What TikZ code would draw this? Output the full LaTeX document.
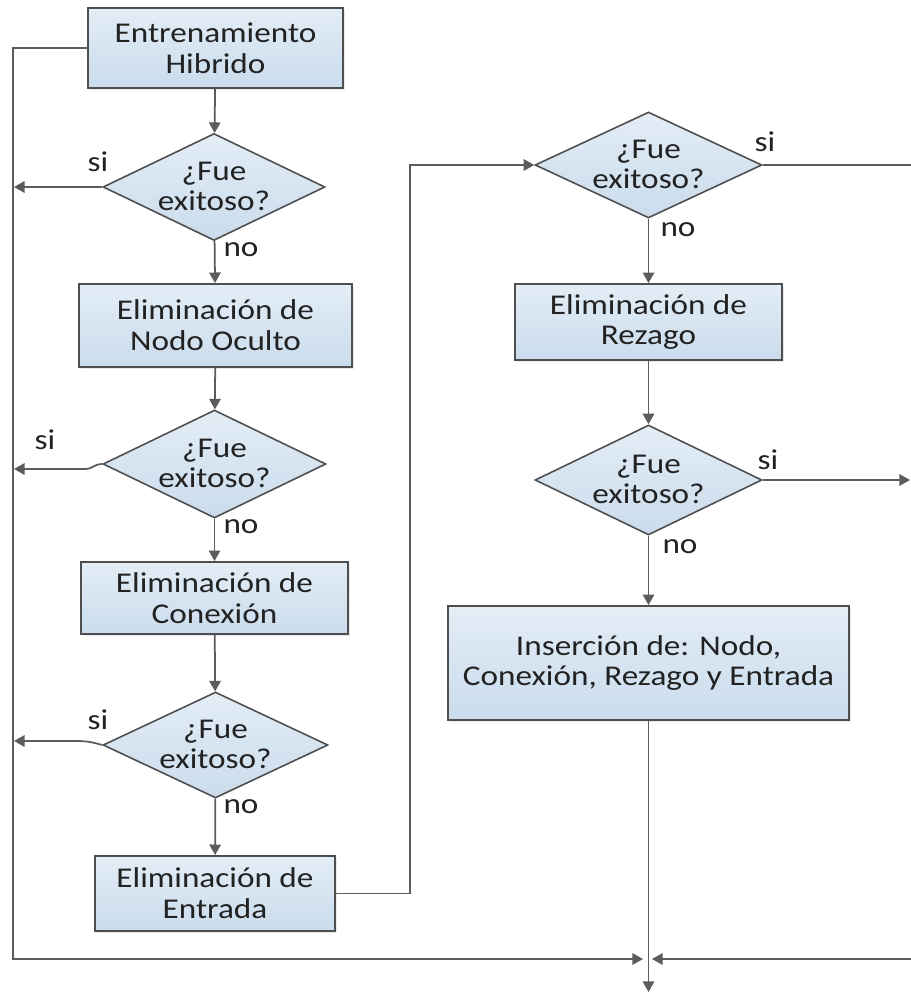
\documentclass[tikz,border=0pt]{standalone}
\usepackage{fontspec}
\setmainfont{Carlito}[FakeStretch=1.16]
\usetikzlibrary{shapes.geometric,arrows.meta,shadows}

\definecolor{boxtop}{HTML}{E3EDF6}
\definecolor{boxbot}{HTML}{CADCEC}
\definecolor{edgegray}{HTML}{4F4F4F}
\definecolor{linegray}{HTML}{5C5C5C}
\definecolor{txt}{HTML}{222222}

% two-line question text, centred on the diamond without widening it
\newcommand\qtext{\smash{\makebox[0pt]{\raisebox{-0.2cm}{\begin{tabular}{@{}c@{}}¿Fue\\exitoso?\end{tabular}}}}}

\tikzset{
  base/.style={font=\fontsize{16.3}{17.5}\selectfont, text=txt},
  procbox/.style={base, rectangle, draw=edgegray, line width=1.1pt,
    top color=boxtop, bottom color=boxbot, align=center, inner sep=2pt,
    drop shadow={shadow xshift=1.2pt, shadow yshift=-1.2pt, opacity=0.18}},
  decision/.style={base, diamond, draw=edgegray, line width=0.9pt,
    top color=boxtop, bottom color=boxbot, inner sep=0pt},
  lbl/.style={base, inner sep=0pt},
  flow/.style={draw=linegray, line width=1pt},
  arr/.style={flow, -{Triangle[length=6pt,width=6.5pt]}},
}

\begin{document}
\begin{tikzpicture}[x=0.02cm, y=-0.02cm]
  \fill[white] (0,0) rectangle (911,993);
  \useasboundingbox (0,0) rectangle (911,993);

  % left column
  \node[procbox, minimum width=5.1cm, minimum height=1.6cm] (b1) at (215.5,48) {Entrenamiento\\Hibrido};
  \node[decision, minimum width=4.44cm, minimum height=2.14cm] (d1) at (214,187) {\qtext};
  \node[procbox, minimum width=5.46cm, minimum height=1.66cm] (b2) at (215.5,325.5) {Eliminación de\\Nodo Oculto};
  \node[decision, minimum width=4.46cm, minimum height=2.16cm] (d2) at (214.5,464) {\qtext};
  \node[procbox, minimum width=5.34cm, minimum height=1.44cm] (b3) at (214.5,598) {Eliminación de\\Conexión};
  \node[decision, minimum width=4.5cm, minimum height=2.12cm] (d3) at (215.5,745) {\qtext};
  \node[procbox, minimum width=4.8cm, minimum height=1.5cm] (b4) at (215,893.5) {Eliminación de\\Entrada};

  % right column
  \node[decision, minimum width=4.54cm, minimum height=2.12cm] (r1) at (648.5,165) {\qtext};
  \node[procbox, minimum width=5.34cm, minimum height=1.52cm] (rb1) at (648.5,322) {Eliminación de\\Rezago};
  \node[decision, minimum width=4.54cm, minimum height=2.2cm] (r2) at (648.5,480) {\qtext};
  \node[procbox, minimum width=8.02cm, minimum height=2.28cm] (rb2) at (648.5,663) {Inserción de: Nodo,\\Conexión, Rezago y Entrada};

  % branch labels
  \node[lbl] (s1) at (98,162) {si};
  \node[lbl] (n1) at (241,250) {no};
  \node[lbl] (s2) at (45,440) {si};
  \node[lbl] (n2) at (241,527) {no};
  \node[lbl] (s3) at (98,720) {si};
  \node[lbl] (n3) at (241,807) {no};
  \node[lbl] (s4) at (765,142) {si};
  \node[lbl] (n4) at (678,230) {no};
  \node[lbl] (s5) at (768,460) {si};
  \node[lbl] (n5) at (680,547) {no};

  % routing points
  \coordinate (lt) at (13,48);
  \coordinate (lb) at (13,959);
  \coordinate (y1) at (14,187);
  \coordinate (y2) at (14,469);
  \coordinate (y3) at (14,741);
  \coordinate (c2) at (86,469);
  \coordinate (c3) at (72,741);
  \coordinate (jr) at (410,893.5);
  \coordinate (jt) at (410,165);
  \coordinate (e1) at (911,165);
  \coordinate (e2) at (910,480);
  \coordinate (e3) at (911,959);
  \coordinate (jl) at (643,959);
  \coordinate (jrr) at (652,959);
  \coordinate (out) at (648.5,992);

  % main chain, left column
  \draw[arr] (b1) -- (d1);
  \draw[arr] (d1) -- (b2);
  \draw[arr] (b2) -- (d2);
  \draw[arr] (d2) -- (b3);
  \draw[arr] (b3) -- (d3);
  \draw[arr] (d3) -- (b4);

  % "si" exits to the left rail
  \draw[arr] (d1.west) -- (y1);
  \draw[arr] (d2.west) .. controls +(-8,0) and +(6,0) .. (c2) -- (y2);
  \draw[arr] (d3.west) .. controls +(-14,-4) and +(12,0) .. (c3) -- (y3);

  % left rail down to the bottom junction
  \draw[arr] (b1.west) -- (lt) -- (lb) -- (jl);

  % over to the right column
  \draw[arr] (b4.east) -- (jr) -- (jt) -- (r1.west);

  % right column chain
  \draw[flow] (r1.east) -- (e1);
  \draw[arr] (r1) -- (rb1);
  \draw[arr] (rb1) -- (r2);
  \draw[arr] (r2.east) -- (e2);
  \draw[arr] (r2) -- (rb2);
  \draw[arr] (rb2.south) -- (out);
  \draw[arr] (e3) -- (jrr);
\end{tikzpicture}
\end{document}
